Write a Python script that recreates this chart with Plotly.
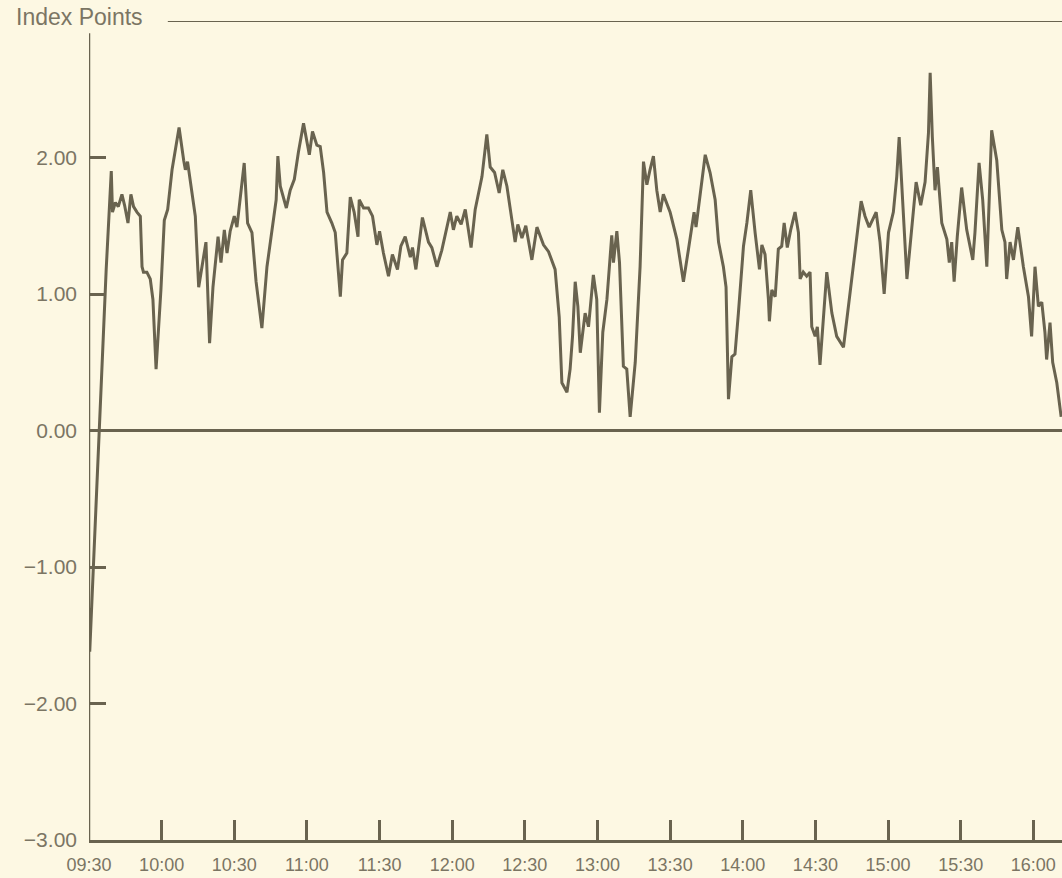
import datetime as dt
import plotly.graph_objects as go

# Minutes after 09:30 and index points
minutes = [0.0, 0.3, 7.1, 9.2, 9.7, 10.9, 12.1, 13.6, 14.7, 16.1, 17.3, 18.4, 19.8, 21.2, 21.9, 22.5,
           23.9, 25.3, 26.4, 27.7, 28.7, 29.7, 31.1, 32.5, 34.3, 37.2, 39.1, 39.8, 40.7, 41.8, 43.9,
           45.3, 46.7, 48.3, 49.8, 51.2, 53.3, 54.5, 55.9, 57.0, 58.3, 60.0, 61.1, 62.5, 64.1, 65.5,
           67.3, 69.0, 71.4, 73.5, 75.6, 77.3, 78.0, 79.0, 81.5, 83.1, 84.8, 86.5, 88.6, 91.0, 92.3,
           94.1, 95.5, 96.9, 98.3, 100.3, 101.7, 103.8, 104.7, 106.5, 107.9, 109.5, 111.1, 111.6,
           113.4, 115.4, 117.1, 118.9, 120.0, 121.6, 123.7, 125.3, 127.4, 128.8, 130.6, 132.7, 133.6,
           135.0, 137.7, 140.2, 141.6, 143.7, 145.7, 149.2, 150.5, 151.9, 153.7, 155.4, 157.8, 159.5,
           162.3, 164.3, 165.7, 167.5, 169.4, 170.9, 172.6, 173.9, 176.0, 177.1, 178.8, 180.4, 182.9,
           185.0, 187.7, 189.8, 192.5, 194.2, 195.3, 197.4, 198.7, 199.7, 200.8, 201.9, 202.9, 204.9,
           206.3, 208.3, 209.7, 210.8, 212.2, 213.9, 215.9, 216.6, 218.0, 219.1, 220.7, 222.1, 223.5,
           225.6, 227.6, 229.0, 230.4, 231.7, 233.1, 234.5, 235.9, 237.2, 240.0, 242.8, 245.5, 247.6,
           249.0, 249.9, 250.7, 254.5, 256.5, 258.6, 260.0, 262.0, 263.1, 264.1, 265.5, 266.8, 268.2,
           270.3, 271.7, 273.3, 275.1, 276.9, 277.9, 279.2, 280.6, 281.0, 282.0, 283.4, 284.7, 286.1,
           287.1, 288.4, 289.8, 291.6, 293.0, 293.7, 295.0, 296.4, 297.8, 298.5, 299.9, 300.8, 301.9,
           304.7, 306.8, 308.8, 311.6, 315.0, 317.1, 318.9, 320.5, 322.2, 325.1, 326.7, 328.4, 330.2,
           332.2, 333.6, 334.6, 335.7, 337.8, 339.1, 341.6, 343.5, 345.3, 346.7, 347.4, 348.3, 349.4,
           350.4, 352.2, 354.3, 355.3, 356.3, 357.3, 358.6, 360.4, 362.5, 365.0, 365.9, 367.6, 369.1,
           370.8, 372.8, 374.9, 377.0, 378.3, 379.0, 380.4, 381.8, 383.6, 385.9, 388.0, 389.3, 390.7,
           392.1, 393.5, 394.8, 395.5, 396.9, 398.0, 399.7, 401.5]
index_points = [-1.30, -1.62, 1.18, 1.90, 1.60, 1.67, 1.64, 1.73, 1.65, 1.52, 1.73, 1.64, 1.60, 1.57, 1.20, 1.16,
                1.16, 1.11, 0.96, 0.45, 0.74, 1.03, 1.54, 1.62, 1.91, 2.22, 1.98, 1.91, 1.97, 1.82, 1.57,
                1.05, 1.22, 1.38, 0.64, 1.05, 1.42, 1.23, 1.47, 1.30, 1.46, 1.57, 1.49, 1.69, 1.96, 1.52,
                1.45, 1.09, 0.75, 1.20, 1.47, 1.69, 2.01, 1.79, 1.63, 1.76, 1.84, 2.04, 2.25, 2.02, 2.19,
                2.09, 2.08, 1.89, 1.60, 1.52, 1.45, 0.98, 1.25, 1.30, 1.71, 1.60, 1.42, 1.69,
                1.63, 1.63, 1.57, 1.36, 1.46, 1.30, 1.13, 1.29, 1.18, 1.35, 1.42, 1.27, 1.34,
                1.18, 1.56, 1.38, 1.34, 1.20, 1.32, 1.60, 1.47, 1.57, 1.51, 1.62, 1.34, 1.62,
                1.86, 2.17, 1.93, 1.89, 1.74, 1.91, 1.79, 1.62, 1.38, 1.51, 1.41, 1.50, 1.25,
                1.49, 1.36, 1.31, 1.18, 0.83, 0.35, 0.28, 0.45, 0.69, 1.09, 0.91, 0.57, 0.86,
                0.76, 1.14, 0.96, 0.13, 0.72, 0.96, 1.43, 1.23, 1.46, 1.23, 0.47, 0.45, 0.10,
                0.50, 1.20, 1.97, 1.80, 1.91, 2.01, 1.76, 1.60, 1.73, 1.60, 1.40, 1.09, 1.33,
                1.52, 1.60, 1.49, 2.02, 1.89, 1.69, 1.38, 1.20, 1.05, 0.23, 0.54, 0.56, 0.86,
                1.35, 1.52, 1.76, 1.45, 1.18, 1.36, 1.29, 0.96, 0.80, 1.03, 0.98, 1.33, 1.35,
                1.52, 1.34, 1.47, 1.60, 1.45, 1.11, 1.16, 1.13, 1.16, 0.76, 0.69, 0.76, 0.48,
                1.16, 0.86, 0.69, 0.61, 1.11, 1.42, 1.68, 1.57, 1.49, 1.60, 1.38, 1.00, 1.45,
                1.60, 1.86, 2.15, 1.76, 1.11, 1.35, 1.82, 1.65, 1.82, 2.18, 2.62, 2.15, 1.76,
                1.93, 1.52, 1.40, 1.23, 1.38, 1.09, 1.42, 1.78, 1.47, 1.25, 1.45, 1.96, 1.69,
                1.20, 2.20, 1.98, 1.47, 1.38, 1.11, 1.38, 1.25, 1.49, 1.20, 0.98, 0.69, 1.20,
                0.91, 0.94, 0.72, 0.52, 0.79, 0.50, 0.35, 0.10]

tick_labels = ["09:30", "10:00", "10:30", "11:00", "11:30", "12:00", "12:30",
               "13:00", "13:30", "14:00", "14:30", "15:00", "15:30", "16:00"]
y_ticks = [-3, -2, -1, 0, 1, 2]

BASE = dt.datetime(2000, 1, 3, 9, 30)
x_vals = [BASE + dt.timedelta(minutes=m) for m in minutes]
tick_vals = [dt.datetime.strptime("2000-01-03 " + t, "%Y-%m-%d %H:%M") for t in tick_labels]
x_end = BASE + dt.timedelta(minutes=401.85)

INK = "#69634f"
TEXT = "#7b7563"
BG = "#fdf8e3"
FONT = "Liberation Sans, Arial, Helvetica, sans-serif"

fig = go.Figure()
fig.add_trace(go.Scatter(x=x_vals, y=index_points, mode="lines",
                         line=dict(color=INK, width=3), hoverinfo="skip", showlegend=False))

fig.update_layout(
    width=1062, height=878,
    margin=dict(l=89, r=0, t=21, b=38),
    paper_bgcolor=BG, plot_bgcolor=BG,
    showlegend=False,
    font=dict(family=FONT, color=TEXT),
)

fig.update_xaxes(
    type="date", range=[BASE, x_end],
    tickvals=tick_vals, ticktext=tick_labels,
    ticks="inside", ticklen=20, tickwidth=2.5, tickcolor=INK,
    showline=True, linecolor=INK, linewidth=2.5,
    showgrid=False, zeroline=False,
    tickfont=dict(size=18, color=TEXT, family=FONT),
    ticklabelstandoff=7,
)
fig.update_yaxes(
    range=[-3, 3],
    tickvals=y_ticks, tickformat=".2f",
    ticks="inside", ticklen=17, tickwidth=2.5, tickcolor=INK,
    showline=False, showgrid=False,
    zeroline=True, zerolinecolor=INK, zerolinewidth=2.5,
    tickfont=dict(size=21, color=TEXT, family=FONT),
    ticklabelstandoff=11,
)

# left axis (stops short of the top rule)
fig.add_shape(type="line", xref="x", yref="y", x0=BASE, x1=BASE, y0=-3, y1=2.91,
              line=dict(color=INK, width=2.5))
# top rule following the axis title
fig.add_shape(type="line", xref="paper", yref="y", x0=0.081, x1=1, y0=3, y1=3,
              line=dict(color=INK, width=2))
fig.add_annotation(text="Index Points", xref="paper", yref="paper", x=-0.077, y=1,
                   xanchor="left", yanchor="middle", yshift=4, showarrow=False,
                   font=dict(size=23, color=TEXT, family=FONT))

fig.write_html(
    "out.html",
    config={"displayModeBar": False},
    post_script="document.body.style.margin='0';document.body.style.background='" + BG + "';",
)
